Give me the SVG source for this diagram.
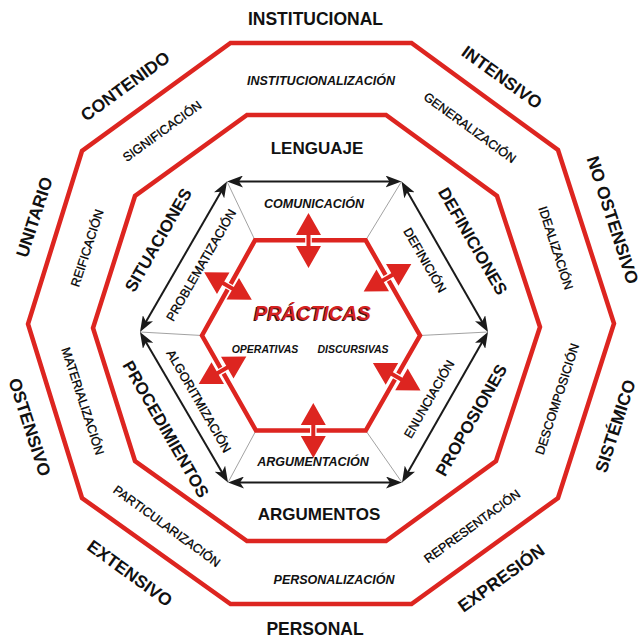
<svg xmlns="http://www.w3.org/2000/svg" width="643" height="638" viewBox="0 0 643 638">
<style>
text{font-family:"Liberation Sans",Arial,Helvetica,sans-serif;text-anchor:middle;fill:#111}
.o{font-size:17.5px;font-weight:bold}
.m{font-size:17px;font-weight:bold}
.r{font-size:12.5px;fill:#000;stroke:#000;stroke-width:0.3}
.ri{font-size:12.5px;font-weight:bold;font-style:italic}
.s{font-size:10.5px;font-weight:bold;font-style:italic}
.red{fill:none;stroke:#dd2520;stroke-width:4.5;stroke-linejoin:miter}
.blk{stroke:#1a1a1a;stroke-width:2;fill:none;marker-start:url(#ah);marker-end:url(#ah)}
.gry{stroke:#8a8a8a;stroke-width:0.8}
</style>
<defs>
<marker id="ah" markerUnits="userSpaceOnUse" markerWidth="16" markerHeight="12" viewBox="0 0 16 12" refX="11" refY="6" orient="auto-start-reverse">
<path d="M0,0 L16,6 L0,12 L4,6 Z" fill="#1a1a1a"/>
</marker>
<g id="ra">
<rect x="-3.3" y="-6.5" width="6.6" height="13" fill="#fff"/>
<rect x="-2" y="-7" width="4" height="14" fill="#dd2520"/>
<path d="M0,-27.5 L12.5,-5.5 L-12.5,-5.5 Z M0,27.5 L12.5,5.5 L-12.5,5.5 Z" fill="#dd2520"/>
</g>
</defs>
<rect width="643" height="638" fill="#fff"/>

<g id="outer-ring">
<polygon class="red" points="230.5,43 411.5,43 558,150 614,323.5 558,498 411.5,604 230.5,604 82,498 28,324 82,151"/>
<text class="o" x="315.5" y="25">INSTITUCIONAL</text>
<text class="o" transform="translate(502,77) rotate(36)" dy="0.36em">INTENSIVO</text>
<text class="o" transform="translate(613,220) rotate(72)" dy="0.36em">NO OSTENSIVO</text>
<text class="o" transform="translate(615,426) rotate(-72)" dy="0.36em">SISTÉMICO</text>
<text class="o" transform="translate(501,578) rotate(-36)" dy="0.36em">EXPRESIÓN</text>
<text class="o" x="315" y="635">PERSONAL</text>
<text class="o" transform="translate(130,573) rotate(36)" dy="0.36em">EXTENSIVO</text>
<text class="o" transform="translate(30,427) rotate(72)" dy="0.36em">OSTENSIVO</text>
<text class="o" transform="translate(34,217) rotate(-72)" dy="0.36em">UNITARIO</text>
<text class="o" transform="translate(125,86) rotate(-36)" dy="0.36em">CONTENIDO</text>
</g>

<g id="middle-ring">
<polygon class="red" points="247,115 386,115 497,196 540,327 496,461 386,541 247,541 135,461 93,328 135,196"/>
<text class="ri" x="321" y="84.5">INSTITUCIONALIZACIÓN</text>
<text class="r" transform="translate(470,127.5) rotate(36)" dy="0.36em">GENERALIZACIÓN</text>
<text class="r" transform="translate(556,248) rotate(72)" dy="0.36em">IDEALIZACIÓN</text>
<text class="r" transform="translate(557,399) rotate(-72)" dy="0.36em">DESCOMPOSICIÓN</text>
<text class="r" transform="translate(472,526) rotate(-36)" dy="0.36em">REPRESENTACIÓN</text>
<text class="ri" x="334" y="584">PERSONALIZACIÓN</text>
<text class="r" transform="translate(167,526) rotate(36)" dy="0.36em">PARTICULARIZACIÓN</text>
<text class="r" transform="translate(83,401) rotate(72)" dy="0.36em">MATERIALIZACIÓN</text>
<text class="r" transform="translate(87,248) rotate(-72)" dy="0.36em">REIFICACIÓN</text>
<text class="r" transform="translate(162,131) rotate(-36)" dy="0.36em">SIGNIFICACIÓN</text>
</g>

<g id="language-ring">
<text class="m" x="317" y="154">LENGUAJE</text>
<text class="m" transform="translate(473,241) rotate(60)" dy="0.36em">DEFINICIONES</text>
<text class="m" transform="translate(471,420) rotate(-60)" dy="0.36em">PROPOSIONES</text>
<text class="m" x="319" y="520">ARGUMENTOS</text>
<text class="m" transform="translate(166,429) rotate(60)" dy="0.36em">PROCEDIMIENTOS</text>
<text class="m" transform="translate(158,240) rotate(-60)" dy="0.36em">SITUACIONES</text>
</g>

<g id="process-labels">
<text class="ri" x="314" y="208">COMUNICACIÓN</text>
<text class="r" transform="translate(425,260) rotate(60)" dy="0.36em">DEFINICIÓN</text>
<text class="r" transform="translate(429,399) rotate(-60)" dy="0.36em">ENUNCIACIÓN</text>
<text class="ri" x="313" y="466">ARGUMENTACIÓN</text>
<text class="r" transform="translate(199,401) rotate(60)" dy="0.36em">ALGORITMIZACIÓN</text>
<text class="r" transform="translate(201,265) rotate(-60)" dy="0.36em">PROBLEMATIZACIÓN</text>
</g>

<g id="connectors">
<line class="gry" x1="255" y1="240.3" x2="227" y2="181.5"/>
<line class="gry" x1="365.7" y1="240.3" x2="401.5" y2="181.5"/>
<line class="gry" x1="420" y1="335.5" x2="488" y2="332"/>
<line class="gry" x1="365.7" y1="430.5" x2="402" y2="482.5"/>
<line class="gry" x1="256" y1="430.5" x2="228" y2="482.5"/>
<line class="gry" x1="202" y1="335.5" x2="140" y2="332"/>
<line class="blk" x1="232" y1="181.5" x2="396.5" y2="181.5"/>
<line class="blk" x1="404" y1="185.8" x2="485.5" y2="327.7"/>
<line class="blk" x1="485.5" y1="336.3" x2="404.5" y2="478.2"/>
<line class="blk" x1="397" y1="482.5" x2="233" y2="482.5"/>
<line class="blk" x1="225.5" y1="478.2" x2="142.5" y2="336.3"/>
<line class="blk" x1="142.5" y1="327.7" x2="224.5" y2="185.8"/>
</g>

<g id="practicas">
<polygon class="red" points="255,240.3 365.7,240.3 420,335.5 365.7,430.5 256,430.5 202,335.5"/>
<text x="311.3" y="320.8" font-size="20" font-weight="bold" font-style="italic" style="fill:#3a1515">PRÁCTICAS</text>
<text x="312.5" y="320" font-size="20" font-weight="bold" font-style="italic" style="fill:#d62222">PRÁCTICAS</text>
<text class="s" x="265" y="352.5">OPERATIVAS</text>
<text class="s" x="353" y="352.5">DISCURSIVAS</text>
</g>

<g id="practice-arrows">
<use href="#ra" transform="translate(308.5,240.5)"/>
<use href="#ra" transform="translate(313.3,430.5)"/>
<use href="#ra" transform="translate(228,286) rotate(-60)"/>
<use href="#ra" transform="translate(387.5,277.7) rotate(60)"/>
<use href="#ra" transform="translate(222.5,370.3) rotate(60)"/>
<use href="#ra" transform="translate(396.7,376.7) rotate(-60)"/>
</g>
</svg>
